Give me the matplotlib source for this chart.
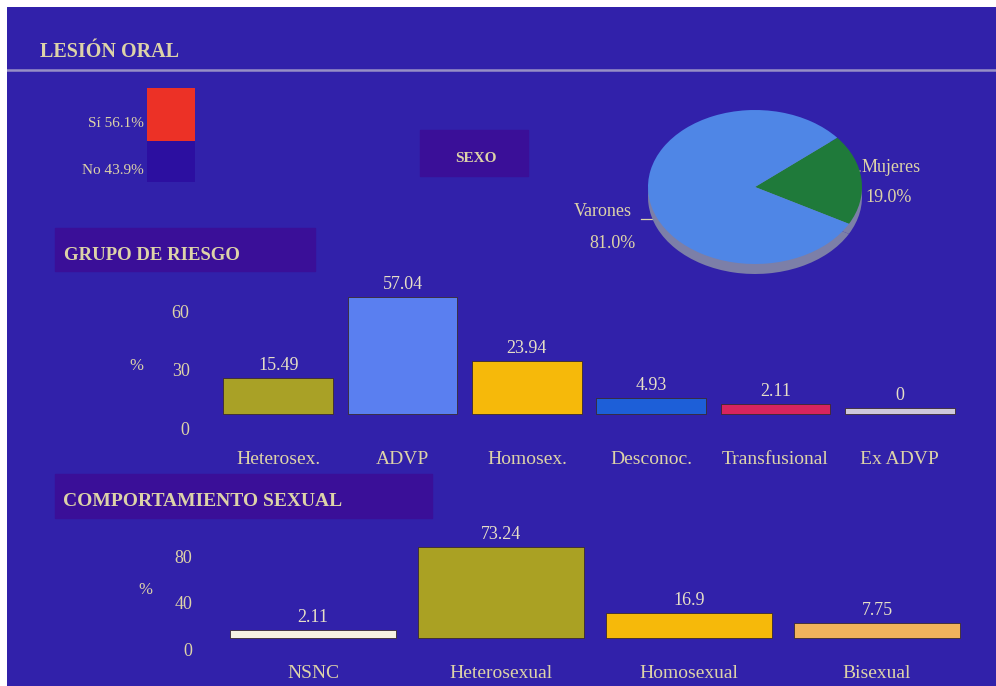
import matplotlib.pyplot as plt
import matplotlib.patches as mpatches
import matplotlib.transforms as mtransforms

# --- data ---
lesion_labels = ["No", "Sí"]
lesion_values = [43.9, 56.1]

sexo_labels = ["Mujeres", "Varones"]
sexo_values = [19.0, 81.0]

riesgo_cats = ["Heterosex.", "ADVP", "Homosex.", "Desconoc.", "Transfusional", "Ex ADVP"]
riesgo_values = [15.49, 57.04, 23.94, 4.93, 2.11, 0]
riesgo_ticks = [0, 30, 60]

comport_cats = ["NSNC", "Heterosexual", "Homosexual", "Bisexual"]
comport_values = [2.11, 73.24, 16.9, 7.75]
comport_ticks = [0, 40, 80]

# --- style ---
W, H = 996, 686
BG = "#3121aa"
BOX = "#3a0f98"
TXT = "#ddd3a8"
VAL = "#e6dfc6"
FONT = ["Liberation Serif", "DejaVu Serif"]
plt.rcParams["font.family"] = FONT

riesgo_colors = ["#a9a126", "#5a7ff0", "#f6b90a", "#1d5fd8", "#d8245e", "#cfc8dc"]
comport_colors = ["#f7f2e2", "#aaa123", "#f6b90a", "#f1b35c"]
lesion_colors = ["#2c0fa0", "#ec3126"]
sexo_colors = ["#1f7a3a", "#4f86e6"]

fig = plt.figure(figsize=(W / 100, H / 100), dpi=100)
fig.patch.set_facecolor("white")


def px_rect(x0, y0, x1, y1):
    # pixel box (top-left origin) -> figure fraction rect
    return [x0 / W, 1 - y1 / H, (x1 - x0) / W, (y1 - y0) / H]


# scanned page background, data coords = figure pixels
bg = fig.add_axes(px_rect(7, 7, W, H))
bg.set_xlim(7, W)
bg.set_ylim(H, 7)
bg.axis("off")
bg.add_patch(mpatches.Rectangle((7, 7), W, H, color=BG, zorder=0))
bg.plot([7, W], [70, 70], color="#aaa3cc", lw=1.8, alpha=0.85)

bg.text(40, 52, "LESIÓN ORAL", color=TXT, fontsize=14.5,
        fontweight="bold", va="center", ha="left")

# title boxes
for (x0, y0, x1, y1), title, tx, fs in [
    ((420, 130, 528, 176), "SEXO", 455, 11),
    ((55, 228, 315, 271), "GRUPO DE RIESGO", 64, 13.5),
    ((55, 474, 432, 518), "COMPORTAMIENTO SEXUAL", 63, 14),
]:
    bg.add_patch(mpatches.Rectangle((x0, y0), x1 - x0, y1 - y0, color=BOX, zorder=1))
    bg.text(tx, (y0 + y1) / 2 + 6, title, color=TXT, fontsize=fs,
            fontweight="bold", va="center", ha="left", zorder=2)

# --- lesión oral stacked bar ---
ax_l = fig.add_axes(px_rect(147, 88, 195, 182))
ax_l.set_facecolor("none")
drop = mtransforms.ScaledTranslation(0, -9 / 100, fig.dpi_scale_trans)
bottom = 0
for lab, v, c in zip(lesion_labels, lesion_values, lesion_colors):
    ax_l.bar(0, v, bottom=bottom, width=1, color=c)
    ax_l.text(-0.56, bottom + v / 2, f"{lab} {v:.1f}%", color=TXT, fontsize=11,
              ha="right", va="center", transform=ax_l.transData + drop)
    bottom += v
ax_l.set_xlim(-0.5, 0.5)
ax_l.set_ylim(0, 100)
ax_l.axis("off")

# --- sexo pie with a little depth ---
ax_p = fig.add_axes(px_rect(648, 110, 862, 274))
ax_p.set_facecolor("none")
ax_p.pie(sexo_values, colors=["#7c7fa8"] * 2, startangle=-28.6, center=(0, -0.13),
         radius=1, wedgeprops=dict(linewidth=0))
ax_p.pie(sexo_values, colors=sexo_colors, startangle=-28.6, center=(0, 0),
         radius=1, wedgeprops=dict(linewidth=0))
ax_p.set_aspect("auto")
ax_p.set_xlim(-1, 1)
ax_p.set_ylim(-1.13, 1)
bg.text(862, 168, sexo_labels[0], color=TXT, fontsize=13, ha="left", va="center")
bg.text(865, 198, f"{sexo_values[0]:.1f}%", color=TXT, fontsize=13, ha="left", va="center")
bg.text(574, 212, sexo_labels[1], color=TXT, fontsize=13, ha="left", va="center")
bg.text(589, 243, f"{sexo_values[1]:.1f}%", color=TXT, fontsize=13, ha="left", va="center")
bg.plot([641, 652], [219, 219], color=TXT, lw=0.9)
bg.plot([849, 860], [175, 171], color=TXT, lw=0.9)


def bar_panel(rect, cats, values, colors, ticks, ylim, base, tick_shift, label_pad):
    ax = fig.add_axes(rect)
    ax.set_facecolor("none")
    x = range(len(cats))
    ax.bar(x, [v - base for v in values], bottom=base, width=0.88, color=colors,
           edgecolor="#3a2a30", linewidth=0.6)
    lift = mtransforms.ScaledTranslation(0, 4 / 100, fig.dpi_scale_trans)
    for xi, v in zip(x, values):
        ax.text(xi, v, f"{v:g}", color=VAL, fontsize=13, ha="center",
                va="bottom", transform=ax.transData + lift)
    ax.set_xlim(-0.5, len(cats) - 0.5)
    ax.set_ylim(*ylim)
    ax.set_xticks(list(x))
    ax.set_xticklabels(cats, color=TXT, fontsize=14)
    ax.set_yticks(ticks)
    ax.set_yticklabels([str(t) for t in ticks], color=TXT, fontsize=13)
    ax.tick_params(axis="both", length=0)
    ax.tick_params(axis="x", pad=label_pad)
    ax.tick_params(axis="y", pad=19)
    shift = mtransforms.ScaledTranslation(0, -tick_shift / 100, fig.dpi_scale_trans)
    for lab in ax.get_yticklabels():
        lab.set_transform(lab.get_transform() + shift)
    for s in ax.spines.values():
        s.set_visible(False)
    return ax


# grupo de riesgo: 1.95 px per unit, zero level at y=408 px
bar_panel(px_rect(216, 262, 962, 427.5), riesgo_cats, riesgo_values, riesgo_colors,
          riesgo_ticks, (-10, 75), -3.1, 20, 17)
bg.text(136, 366, "%", color=TXT, fontsize=12, ha="center", va="center")

# comportamiento sexual: 1.167 px per unit, zero level at y=632.5 px
bar_panel(px_rect(219, 527.5, 971, 648.8), comport_cats, comport_values, comport_colors,
          comport_ticks, (-14, 90), -4.7, 17, 12)
bg.text(145, 590, "%", color=TXT, fontsize=12, ha="center", va="center")

fig.savefig("out.png", dpi=100, facecolor=fig.get_facecolor())
